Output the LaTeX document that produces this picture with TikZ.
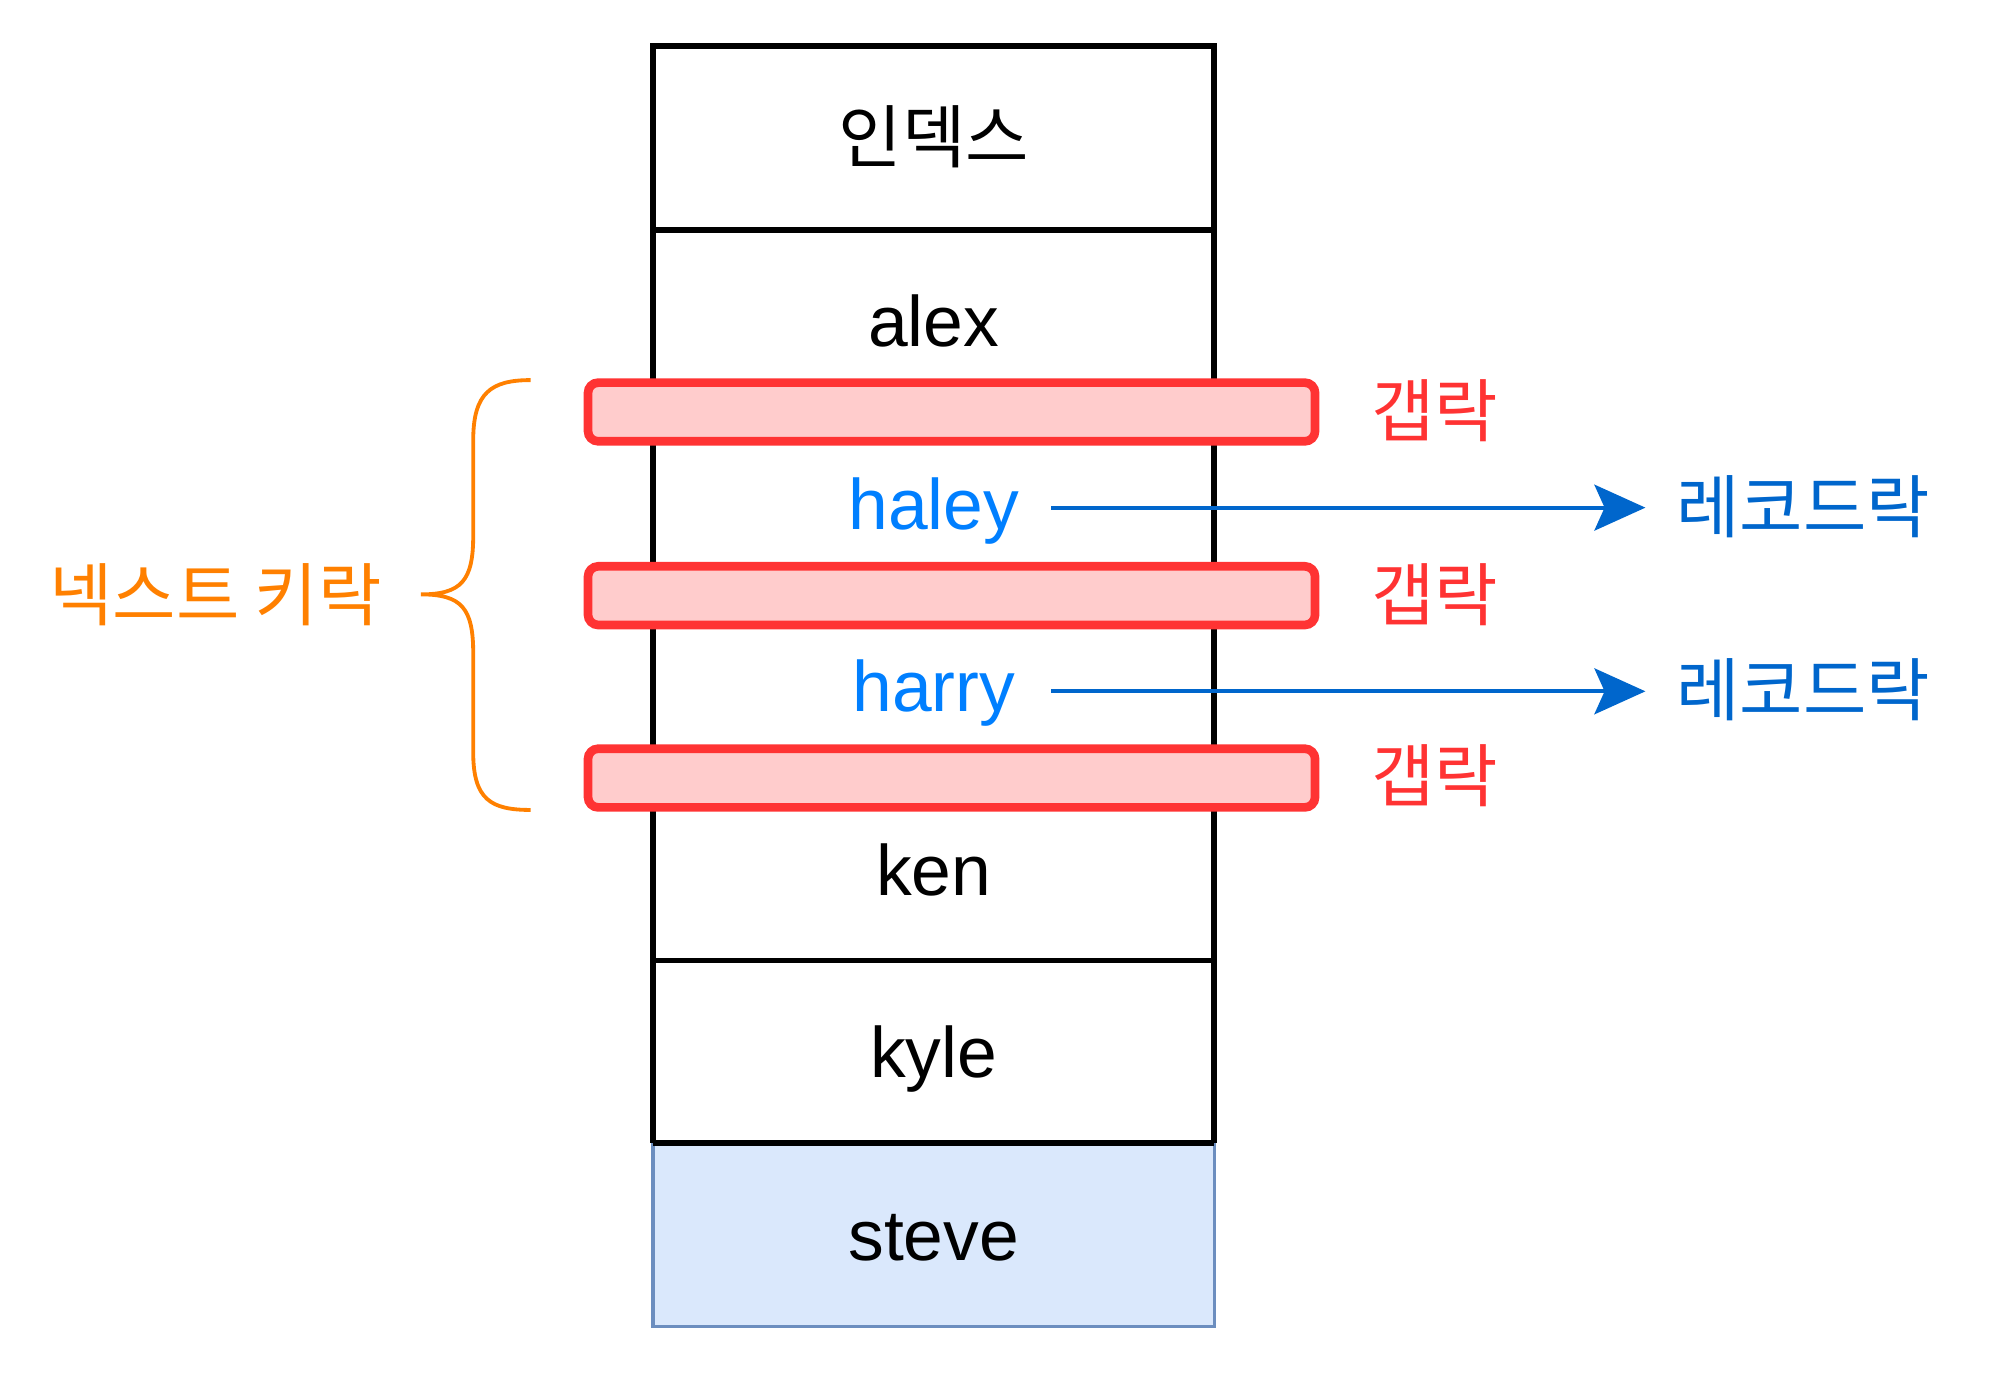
\documentclass[tikz,border=0pt]{standalone}
\usepackage{fontspec}
\setmainfont{Liberation Sans}
\newfontfamily\kr{Noto Sans CJK KR}
\usetikzlibrary{arrows.meta}
\definecolor{gapred}{HTML}{FF3333}
\definecolor{gapfill}{HTML}{FFCCCC}
\definecolor{recblue}{HTML}{0066CC}
\definecolor{keyblue}{HTML}{007FFF}
\definecolor{nkorange}{HTML}{FF8000}
\definecolor{stevefill}{HTML}{DAE8FC}
\definecolor{steveline}{HTML}{6C8EBF}
\tikzset{
  boxline/.style={draw=black, line width=2.3pt},
  cellname/.style={anchor=base, inner sep=0pt, font=\fontsize{28pt}{32pt}\selectfont},
  krtext/.style={inner sep=0pt, font=\kr\fontsize{27pt}{31pt}\selectfont},
  gapbar/.style={draw=gapred, fill=gapfill, line width=3.4pt, rounded corners=4pt,
    minimum width=285pt, minimum height=23pt, inner sep=0pt},
  gaplabel/.style={krtext, text=gapred},
  reclabel/.style={krtext, text=recblue, anchor=west, inner xsep=12pt},
  recarrow/.style={draw=recblue, line width=1.5pt,
    -{Stealth[length=20pt, width=18pt, inset=4pt]}},
  nkbrace/.style={draw=nkorange, line width=1.5pt},
}
\begin{document}
\begin{tikzpicture}[x=0.5pt, y=-0.5pt]
\useasboundingbox (0,0) rectangle (1568,1090);
% steve cell
\filldraw[fill=stevefill, draw=steveline, line width=1.4pt] (512,896) rectangle (952,1040);
% frame
\draw[boxline] (512,896) -- (512,36) -- (952,36) -- (952,896);
\draw[boxline] (512,180) -- (952,180);
\draw[boxline] (512,753) -- (952,753);
\draw[boxline] (512,896) -- (952,896);
% cell texts
\node[krtext] (idx) at (732,107) {인덱스};
\node[cellname] (alex) at (732,272) {alex};
\node[cellname, text=keyblue] (haley) at (732,415) {haley};
\node[cellname, text=keyblue] (harry) at (732,558) {harry};
\node[cellname] (ken) at (732,702) {ken};
\node[cellname] (kyle) at (732,845) {kyle};
\node[cellname] (steve) at (732,988) {steve};
% gap bars
\node[gapbar] (g1) at (746,323) {};
\node[gapbar] (g2) at (746,467) {};
\node[gapbar] (g3) at (746,610) {};
\node[gaplabel] (gl1) at (1125,322) {갭락};
\node[gaplabel] (gl2) at (1125,466) {갭락};
\node[gaplabel] (gl3) at (1125,608) {갭락};
% record locks
\node[reclabel] (r1) at (1290,397) {레코드락};
\node[reclabel] (r2) at (1290,541) {레코드락};
\coordinate (a1) at (824,398);
\coordinate (a2) at (824,542);
\draw[recarrow] (a1) -- (a1 -| r1.west);
\draw[recarrow] (a2) -- (a2 -| r2.west);
% next-key brace
\node[krtext, text=nkorange] (nk) at (169,466) {넥스트 키락};
\coordinate (btop) at (416,298);
\coordinate (btip) at (330,466);
\coordinate (bbot) at (416,635);
\draw[nkbrace] (btop) .. controls (385,298) and (371,308) .. (371,345) -- (371,420)
  .. controls (371,455) and (362,466) .. (btip)
  .. controls (362,466) and (371,477) .. (371,512) -- (371,590)
  .. controls (371,627) and (385,635) .. (bbot);
\end{tikzpicture}
\end{document}
